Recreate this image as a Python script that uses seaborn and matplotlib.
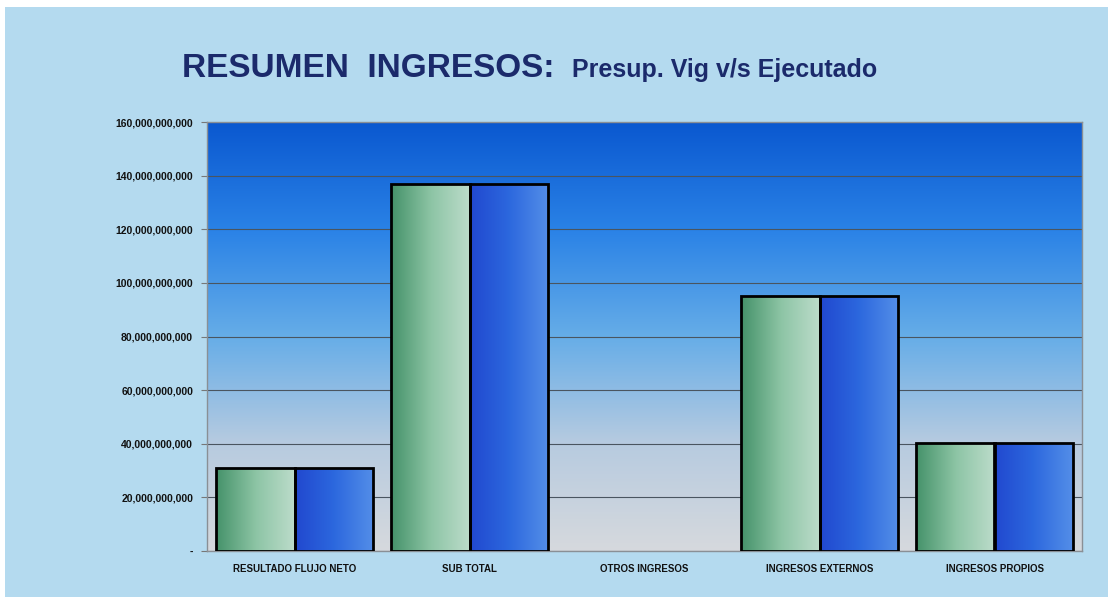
import numpy as np
import pandas as pd
import matplotlib
matplotlib.use("Agg")
import matplotlib.pyplot as plt
import seaborn as sns
from matplotlib.colors import LinearSegmentedColormap
from matplotlib.patches import Rectangle
from matplotlib.ticker import FuncFormatter

# Data
categorias = ["RESULTADO FLUJO NETO", "SUB TOTAL", "OTROS INGRESOS",
              "INGRESOS EXTERNOS", "INGRESOS PROPIOS"]
presup_vig = [31.0e9, 137.0e9, 0.0, 95.2e9, 40.3e9]
ejecutado = [31.0e9, 137.0e9, 0.0, 95.2e9, 40.3e9]
series = ["Presup. Vig", "Ejecutado"]
y_ticks = [0, 20e9, 40e9, 60e9, 80e9, 100e9, 120e9, 140e9, 160e9]

df = pd.DataFrame({
    "categoria": categorias * 2,
    "valor": presup_vig + ejecutado,
    "serie": [series[0]] * len(categorias) + [series[1]] * len(categorias),
})

sns.set_style("white")
plt.rcParams["font.family"] = ["Liberation Sans", "DejaVu Sans"]

fig = plt.figure(figsize=(11.13, 6.02), dpi=100)
fig.patch.set_facecolor("white")
# light blue chart area inside a thin white margin
fig.patches.append(Rectangle((5 / 1113, 5 / 602), 1 - 10 / 1113, 1 - 12 / 602,
                             transform=fig.transFigure, facecolor="#b4daef",
                             edgecolor="none", zorder=-10))

ax = fig.add_axes([207 / 1113, 51 / 602, 875 / 1113, 429 / 602])
ax.set_facecolor("none")

sns.barplot(data=df, x="categoria", y="valor", hue="serie", width=0.9,
            palette=["#7fbf9a", "#2f6fe0"], edgecolor="black", linewidth=2,
            legend=False, ax=ax, zorder=3)

# plot area gradient: dark blue at top fading to light grey at bottom
bg_cmap = LinearSegmentedColormap.from_list(
    "bg", ["#d6d9dd", "#b7cbe0", "#66ade8", "#2a82e6", "#0a58d0"])
grad = np.linspace(0, 1, 256).reshape(-1, 1)
ax.imshow(grad, extent=[0, 1, 0, 1], transform=ax.transAxes, aspect="auto",
          cmap=bg_cmap, origin="lower", zorder=0)

# horizontal gradients inside the bars
green_cmap = LinearSegmentedColormap.from_list("g", ["#45926a", "#8cc4a4", "#bcdccb"])
blue_cmap = LinearSegmentedColormap.from_list("b", ["#2148cf", "#2c68de", "#548ee8"])
hgrad = np.linspace(0, 1, 128).reshape(1, -1)
n = len(categorias)
for i, patch in enumerate(ax.patches):
    if patch.get_height() <= 0:
        patch.set_visible(False)
        continue
    x0, y0 = patch.get_x(), patch.get_y()
    w, h = patch.get_width(), patch.get_height()
    cmap = green_cmap if i < n else blue_cmap
    im = ax.imshow(hgrad, extent=[x0, x0 + w, y0, y0 + h], aspect="auto",
                   cmap=cmap, zorder=2.5)
    im.set_clip_path(patch)
    patch.set_facecolor("none")

ax.set_xlim(-0.5, n - 0.5)
ax.set_ylim(0, 160e9)
ax.set_yticks(y_ticks)
ax.yaxis.set_major_formatter(FuncFormatter(lambda v, p: "-" if v == 0 else f"{v:,.0f}"))
ax.grid(True, axis="y", color="#4a5560", linewidth=0.8)
for line in ax.get_ygridlines():
    line.set_zorder(1)

ax.tick_params(axis="y", left=True, length=4, width=0.8, color="#777777",
               pad=6, labelsize=7.5)
ax.tick_params(axis="x", bottom=False, pad=6, labelsize=7)
for lab in ax.get_yticklabels() + ax.get_xticklabels():
    lab.set_fontweight("bold")
    lab.set_color("#111111")
ax.set_xlabel("")
ax.set_ylabel("")
for sp in ax.spines.values():
    sp.set_color("#8a8f95")
    sp.set_linewidth(1)

fig.text(182 / 1113, 1 - 77 / 602, "RESUMEN  INGRESOS:", fontsize=24,
         fontweight="bold", color="#1b2a6b", va="baseline", ha="left")
fig.text(572 / 1113, 1 - 77 / 602, "Presup. Vig v/s Ejecutado", fontsize=18,
         fontweight="bold", color="#1b2a6b", va="baseline", ha="left")

fig.savefig("out.png", dpi=100)
